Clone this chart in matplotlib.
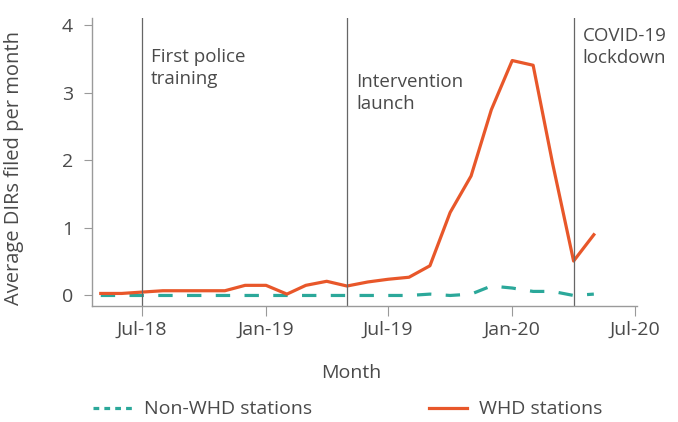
import matplotlib
matplotlib.use("Agg")
import matplotlib.pyplot as plt
from matplotlib.lines import Line2D
import pandas as pd

plt.rcParams['font.family'] = ['Open Sans', 'DejaVu Sans']

# monthly data, May 2018 - May 2020
months = pd.date_range('2018-05-01', '2020-05-01', freq='MS')
whd = [0.03, 0.03, 0.05, 0.07, 0.07, 0.07, 0.07, 0.15, 0.15, 0.02, 0.15, 0.21,
       0.14, 0.20, 0.24, 0.27, 0.44, 1.23, 1.77, 2.75, 3.48, 3.41, 1.95, 0.51, 0.90]
non_whd = [0, 0, 0, 0, 0, 0, 0, 0, 0, 0, 0, 0,
           0, 0, 0, 0, 0.02, 0.0, 0.02, 0.14, 0.11, 0.06, 0.06, 0.0, 0.02]

events = ['2018-07-01', '2019-05-01', '2020-04-01']
event_labels = ['First police\ntraining', 'Intervention\nlaunch', 'COVID-19\nlockdown']
event_y = [0.895, 0.81, 0.97]

xticks = ['2018-07-01', '2019-01-01', '2019-07-01', '2020-01-01', '2020-07-01']
xtick_labels = ['Jul-18', 'Jan-19', 'Jul-19', 'Jan-20', 'Jul-20']

orange = '#E8572A'
teal = '#2BA89A'
txt = '#4a4a4a'
grey = '#9a9a9a'
fs = 13.5

fig = plt.figure(figsize=(6.78, 4.22), dpi=100)
ax = fig.add_axes([92/678, 1-306/422, 545/678, 288/422])

ax.plot(months, non_whd, color=teal, lw=2.3, dashes=(4.5, 4.5))
ax.plot(months, whd, color=orange, lw=2.3)

for d, lab, yy in zip(events, event_labels, event_y):
    dd = pd.Timestamp(d)
    ax.axvline(dd, color='#666666', lw=0.9)
    ax.annotate(lab, xy=(dd, yy), xycoords=('data', 'axes fraction'),
                xytext=(6.5, 0), textcoords='offset points',
                ha='left', va='top', fontsize=fs, color=txt, linespacing=1.3)

ax.set_xlim(pd.Timestamp('2018-04-18'), pd.Timestamp('2020-07-04'))
ax.set_ylim(-0.156, 4.11)
ax.set_yticks([0, 1, 2, 3, 4])
ax.set_xticks([pd.Timestamp(t) for t in xticks])
ax.set_xticklabels(xtick_labels)

for s in ['top', 'right']:
    ax.spines[s].set_visible(False)
for s in ['left', 'bottom']:
    ax.spines[s].set_color(grey)
    ax.spines[s].set_linewidth(1.0)
ax.tick_params(axis='x', length=7, color=grey, labelsize=14, labelcolor=txt, pad=4)
ax.tick_params(axis='y', length=5.5, color=grey, labelsize=14, labelcolor=txt, pad=8)

ax.set_xlabel('Month', fontsize=14, color=txt)
ax.xaxis.set_label_coords(0.475, -0.2)
ax.set_ylabel('Average DIRs filed per month', fontsize=14.5, color=txt)
ax.yaxis.set_label_coords(-0.125, 0.48)

handles = [Line2D([], [], color=teal, lw=2.3, dashes=(1.8, 1.6)),
           Line2D([], [], color=orange, lw=2.3)]
fig.legend(handles, ['Non-WHD stations', 'WHD stations'], loc='center',
           bbox_to_anchor=(0.513, 0.03), ncol=2, frameon=False, fontsize=14,
           labelcolor=txt, handlelength=2.0, handletextpad=0.6, columnspacing=6.0)

fig.savefig('out.png', dpi=100)
